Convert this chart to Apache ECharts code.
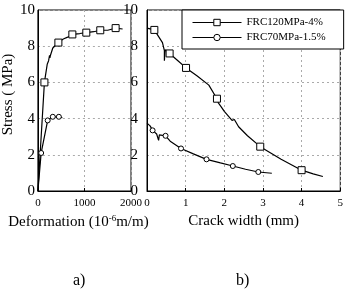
<!DOCTYPE html>
<html><head><meta charset="utf-8">
<script src="https://cdn.jsdelivr.net/npm/echarts@6/dist/echarts.min.js"></script>
<style>html,body{margin:0;padding:0;background:#fff}#c{width:346px;height:293px}</style>
</head><body><div id="c"></div><script>
// ---- data ----
var seriesNames = ['FRC120MPa-4%', 'FRC70MPa-1.5%'];
// a) stress vs deformation
var a120 = [[0,0],[140,6.0],[200,7.0],[230,7.2],[250,7.5],[258,7.35],[270,7.5],[320,7.9],[380,8.05],[440,8.2],[480,8.25],[545,8.4],[640,8.5],[740,8.65],[900,8.7],[1040,8.75],[1200,8.8],[1340,8.88],[1500,8.88],[1600,8.95],[1670,9.0],[1820,8.95]];
var a120Marks = [1, 9, 13, 15, 17, 20];
var a70 = [[0,0],[70,2.1],[210,3.9],[320,4.1],[450,4.1],[525,4.05]];
var a70Marks = [1, 2, 3, 4];
// b) stress vs crack width
var b120 = [[0,9.0],[0.19,8.9],[0.4,8.2],[0.45,7.75],[0.45,7.2],[0.47,7.8],[0.585,7.6],[0.8,7.2],[1.01,6.8],[1.3,6.35],[1.6,5.85],[1.81,5.1],[1.85,4.85],[1.88,4.95],[1.92,4.65],[1.96,4.75],[2.0,4.4],[2.05,4.5],[2.1,4.15],[2.15,4.2],[2.2,3.9],[2.26,3.95],[2.37,3.55],[2.6,3.05],[2.93,2.45],[3.2,2.1],[3.47,1.75],[4.0,1.15],[4.3,0.95],[4.55,0.8]];
var b120Marks = [1, 6, 8, 11, 24, 27];
var b70 = [[0,3.75],[0.03,3.85],[0.08,3.6],[0.145,3.35],[0.25,3.15],[0.3,2.8],[0.32,3.1],[0.48,3.05],[0.6,2.75],[0.88,2.35],[1.2,2.05],[1.54,1.75],[1.9,1.55],[2.22,1.38],[2.55,1.2],[2.88,1.05],[3.23,0.98]];
var b70Marks = [3, 7, 9, 11, 13, 15];
var xNameA = 'Deformation (10{sup|-6}m/m)';
var xNameB = 'Crack width (mm)';
var yName = 'Stress ( MPa)';
var panelLabels = ['a)', 'b)'];

// ---- chart ----
var FONT = 'Liberation Serif';
function pts(arr, marks, sym) {
  return arr.map(function (p, i) {
    return { value: p, symbol: marks.indexOf(i) >= 0 ? sym : 'none' };
  });
}
function xAxis(idx, max, interval, name, extra) {
  var o = {
    type: 'value', gridIndex: idx, min: 0, max: max, interval: interval,
    axisLine: { show: true, onZero: false, lineStyle: { color: '#000', width: 1 } },
    axisTick: { show: true, inside: true, length: 3, lineStyle: { color: '#000' } },
    axisLabel: { color: '#000', fontFamily: FONT, fontSize: 11, margin: 7, showMinLabel: true, showMaxLabel: true,
      formatter: function (v) { return String(v); } },
    splitLine: { show: true, lineStyle: { color: '#aaa', type: [2, 3], width: 1 } },
    name: name, nameLocation: 'middle', nameGap: 23,
    nameTextStyle: { color: '#000', fontFamily: FONT, fontSize: 15,
      rich: { sup: { fontFamily: FONT, fontSize: 9, color: '#000', padding: [0, 0, 8, 0] } } }
  };
  if (extra) Object.assign(o.nameTextStyle, extra);
  return o;
}
function yAxis(idx, margin, name) {
  return {
    type: 'value', gridIndex: idx, min: 0, max: 10, interval: 2,
    axisLine: { show: true, lineStyle: { color: '#000', width: 1 } },
    axisTick: { show: false },
    axisLabel: { color: '#000', fontFamily: FONT, fontSize: 15, margin: margin },
    splitLine: { show: true, lineStyle: { color: '#aaa', type: [2, 3], width: 1 } },
    name: name, nameLocation: 'middle', nameGap: 11,
    nameTextStyle: { color: '#000', fontFamily: FONT, fontSize: 15, padding: [0, 0, 0, 12] }
  };
}
function line(name, xi, data, marks, sym, size) {
  return {
    type: 'line', name: name, xAxisIndex: xi, yAxisIndex: xi,
    data: pts(data, marks, sym), symbol: sym, symbolSize: size, showSymbol: true, showAllSymbol: true,
    lineStyle: { color: '#000', width: 1.2 },
    itemStyle: { color: '#fff', borderColor: '#000', borderWidth: 1 },
    animation: false, z: 3
  };
}
var chart = echarts.init(document.getElementById('c'), null, { renderer: 'canvas' });
chart.setOption({
  backgroundColor: '#fff',
  animation: false,
  grid: [
    { left: 27, top: 10, width: 104, height: 181, show: true, borderColor: '#000', borderWidth: 1, backgroundColor: 'transparent' },
    { left: 147, top: 10, width: 196, height: 181, show: true, borderColor: '#000', borderWidth: 1, backgroundColor: 'transparent' }
  ],
  xAxis: [
    xAxis(0, 2000, 1000, xNameA, { padding: [0, 12, 0, 0] }),
    xAxis(1, 5, 1, xNameB)
  ],
  yAxis: [yAxis(0, 3, yName), yAxis(1, 9, '')],
  legend: {
    data: seriesNames, left: 182, top: 10, orient: 'vertical',
    backgroundColor: '#fff', borderColor: '#000', borderWidth: 1, borderRadius: 0,
    padding: [7, 18, 6, 10], itemGap: 4, itemWidth: 49, itemHeight: 8,
    itemStyle: { color: '#fff', borderColor: '#000', borderWidth: 1 },
    lineStyle: { color: '#000', width: 1 },
    textStyle: { color: '#000', fontFamily: FONT, fontSize: 11 }
  },
  title: [
    { text: panelLabels[0], left: 68, top: 268, textStyle: { color: '#000', fontFamily: FONT, fontSize: 16, fontWeight: 'normal' } },
    { text: panelLabels[1], left: 231, top: 268, textStyle: { color: '#000', fontFamily: FONT, fontSize: 16, fontWeight: 'normal' } }
  ],
  series: [
    line(seriesNames[0], 1, b120, b120Marks, 'rect', 7),
    line(seriesNames[1], 1, b70, b70Marks, 'circle', 5),
    line(seriesNames[0], 0, a120, a120Marks, 'rect', 7),
    line(seriesNames[1], 0, a70, a70Marks, 'circle', 5)
  ]
});
</script></body></html>
